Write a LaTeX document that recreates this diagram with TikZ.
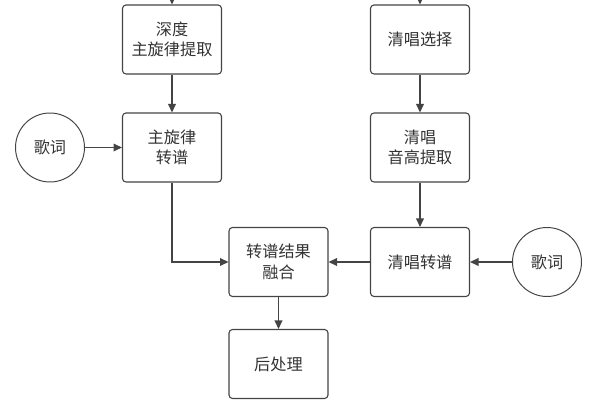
\documentclass[tikz,border=0pt]{standalone}
\usepackage{fontspec}
\newfontfamily\cjk{Noto Sans CJK SC}
\usetikzlibrary{arrows.meta}
\definecolor{linegray}{HTML}{444444}
\definecolor{textgray}{HTML}{333333}
\tikzset{
  procbox/.style={draw=linegray, line width=0.8pt, rounded corners=2.5pt,
    minimum width=99*0.025cm, minimum height=69*0.025cm, align=center,
    text=textgray, font=\cjk\fontsize{11.5}{14.5}\selectfont},
  lyric/.style={draw=linegray, line width=0.7pt, circle, minimum size=69*0.025cm,
    text=textgray, font=\cjk\fontsize{11.5}{14.5}\selectfont},
  flow/.style={draw=linegray, line width=0.8pt, -{Triangle[length=6pt,width=5.5pt]}}
}

\begin{document}
\begin{tikzpicture}[x=0.025cm,y=-0.025cm]
      \useasboundingbox (0,0) rectangle (600,400);
      % left branch
      \coordinate (inL) at (172,-8);
      \node[procbox] (deep) at (172,39.5) {深度\\主旋律提取};
      \node[procbox] (mtrans) at (172,147.5) {主旋律\\转谱};
      \node[lyric] (lyrL) at (50,147.5) {歌词};
      % right branch
      \coordinate (inR) at (420,-8);
      \node[procbox] (select) at (420,39.5) {清唱选择};
      \node[procbox] (pitch) at (420,147.5) {清唱\\音高提取};
      \node[procbox] (vtrans) at (420,262) {清唱转谱};
      \node[lyric] (lyrR) at (547,262) {歌词};
      % merge
      \node[procbox] (merge) at (278.5,262) {转谱结果\\融合};
      \node[procbox] (post) at (278.5,364) {后处理};

      \draw[flow] (inL) -- (deep);
      \draw[flow] (deep) -- (mtrans);
      \draw[flow] (lyrL) -- (mtrans);
      \draw[flow] (mtrans) |- (merge);
      \draw[flow] (inR) -- (select);
      \draw[flow] (select) -- (pitch);
      \draw[flow] (pitch) -- (vtrans);
      \draw[flow] (lyrR) -- (vtrans);
      \draw[flow] (vtrans) -- (merge);
      \draw[flow] (merge) -- (post);
\end{tikzpicture}
\end{document}
